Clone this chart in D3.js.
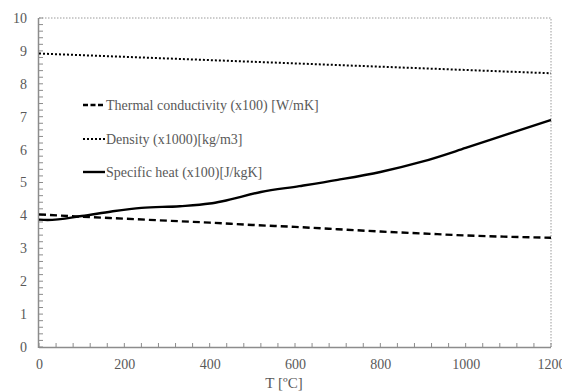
<!DOCTYPE html>
<html>
<head>
<meta charset="utf-8">
<script src="https://cdn.jsdelivr.net/npm/d3@7"></script>
<style>
  html, body { margin: 0; padding: 0; background: #fff; }
  svg { display: block; }
  text { font-family: "Liberation Serif", "Times New Roman", serif; fill: #595959; }
</style>
</head>
<body>
<svg id="chart" width="562" height="392"></svg>
<script>
// Temperature-dependent material properties
const densityT = [0, 100, 200, 300, 400, 500, 600, 700, 800, 900, 1000, 1100, 1200];
const density = [8.92, 8.87, 8.82, 8.77, 8.72, 8.67, 8.62, 8.57, 8.52, 8.47, 8.42, 8.37, 8.32];

const conductivityT = [0, 100, 200, 300, 400, 500, 600, 700, 800, 900, 1000, 1100, 1200];
const conductivity = [4.03, 3.96, 3.90, 3.84, 3.78, 3.71, 3.65, 3.58, 3.51, 3.45, 3.39, 3.35, 3.32];

const specificHeatT = [0, 20, 100, 170, 240, 330, 400, 430, 520, 610, 700, 800, 900, 1000, 1100, 1200];
const specificHeat = [3.87, 3.86, 3.98, 4.12, 4.23, 4.28, 4.36, 4.43, 4.71, 4.89, 5.08, 5.32, 5.64, 6.05, 6.48, 6.90];

const xTicks = [0, 200, 400, 600, 800, 1000, 1200];
const yTicks = [0, 1, 2, 3, 4, 5, 6, 7, 8, 9, 10];

const seriesNames = ["Thermal conductivity (x100) [W/mK]", "Density (x1000)[kg/m3]", "Specific heat (x100)[J/kgK]"];
const xTitle = "T [ºC]";

const svg = d3.select("#chart");
const plotLeft = 39, plotRight = 551, plotTop = 18, plotBottom = 347;

const x = d3.scaleLinear().domain([0, 1200]).range([plotLeft, plotRight]);
const y = d3.scaleLinear().domain([0, 10]).range([plotBottom, plotTop]);

const axisColor = "#8c8c8c";
const fontSize = "14px";

// Dotted frame on top and right
svg.append("path")
  .attr("d", `M${plotLeft},${plotTop}H${plotRight}V${plotBottom}`)
  .attr("fill", "none")
  .attr("stroke", "#9a9a9a")
  .attr("stroke-width", 1)
  .attr("stroke-dasharray", "1.5,1.5");

// Minor ticks (inside)
const xMinor = d3.range(0, 1201, 40);
const yMinor = d3.range(0, 10.001, 0.2);

const gx = svg.append("g").attr("transform", `translate(0,${plotBottom})`);
gx.selectAll("line.minor").data(xMinor).join("line")
  .attr("x1", d => x(d)).attr("x2", d => x(d))
  .attr("y1", 0).attr("y2", -4)
  .attr("stroke", axisColor).attr("stroke-width", 1);
gx.append("line").attr("x1", plotLeft).attr("x2", plotRight).attr("y1", 0.5).attr("y2", 0.5)
  .attr("stroke", axisColor).attr("stroke-width", 1.5);
const xAxis = d3.axisBottom(x).tickValues(xTicks).tickSize(0).tickPadding(12).tickFormat(d3.format("d"));
gx.append("g").call(xAxis).call(g => g.select(".domain").remove())
  .selectAll("text").style("font-size", fontSize).attr("fill", "#595959")
  .attr("font-family", "Liberation Serif");

const gy = svg.append("g").attr("transform", `translate(${plotLeft},0)`);
gy.selectAll("line.minor").data(yMinor).join("line")
  .attr("x1", 0).attr("x2", 4)
  .attr("y1", d => y(d)).attr("y2", d => y(d))
  .attr("stroke", axisColor).attr("stroke-width", 1);
gy.append("line").attr("x1", -0.5).attr("x2", -0.5).attr("y1", plotTop).attr("y2", plotBottom + 1)
  .attr("stroke", axisColor).attr("stroke-width", 1.5);
const yAxis = d3.axisLeft(y).tickValues(yTicks).tickSize(0).tickPadding(12).tickFormat(d3.format("d"));
gy.append("g").call(yAxis).call(g => g.select(".domain").remove())
  .selectAll("text").style("font-size", fontSize).attr("fill", "#595959")
  .attr("font-family", "Liberation Serif");

// Axis title
svg.append("text").attr("x", 284).attr("y", 388).attr("text-anchor", "middle")
  .style("font-size", "15px").text(xTitle);

// Series lines
const line = d3.line().x(d => x(d[0])).y(d => y(d[1])).curve(d3.curveMonotoneX);
const zip = (a, b) => a.map((v, i) => [v, b[i]]);

const styles = [
  { data: zip(conductivityT, conductivity), width: 2.4, dash: "7,4" },
  { data: zip(densityT, density), width: 2, dash: "2,2" },
  { data: zip(specificHeatT, specificHeat), width: 2.4, dash: null }
];

styles.forEach(s => {
  svg.append("path").datum(s.data)
    .attr("d", line)
    .attr("fill", "none")
    .attr("stroke", "#000")
    .attr("stroke-width", s.width)
    .attr("stroke-dasharray", s.dash);
});

// Legend
const legendY = [105, 139, 172];
const legend = svg.append("g");
seriesNames.forEach((name, i) => {
  const s = styles[i];
  legend.append("line")
    .attr("x1", 83).attr("x2", 105)
    .attr("y1", legendY[i]).attr("y2", legendY[i])
    .attr("stroke", "#000").attr("stroke-width", s.width)
    .attr("stroke-dasharray", i === 0 ? "5,2.5" : s.dash);
  legend.append("text")
    .attr("x", 106).attr("y", legendY[i]).attr("dy", "0.35em")
    .style("font-size", fontSize).text(name);
});
</script>
</body>
</html>
